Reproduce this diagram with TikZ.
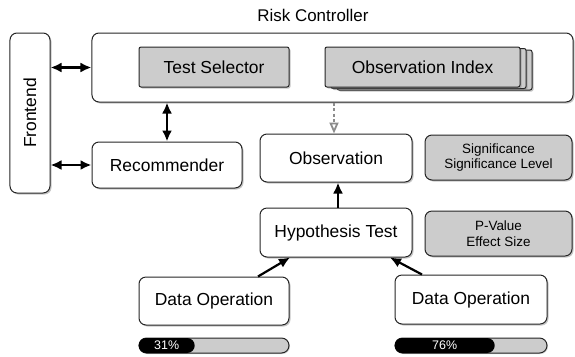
\documentclass[tikz,border=0pt]{standalone}
\usepackage{fontspec}
\setmainfont{Liberation Sans}
\usetikzlibrary{positioning,arrows.meta,shadows}
\definecolor{boxgray}{RGB}{204,204,204}

\begin{document}
\begin{tikzpicture}[x=1bp,y=-1bp,>={Latex[length=11bp,width=10bp]},
  box/.style={draw=black!85,line width=1bp,rounded corners=7bp,fill=white,
    drop shadow={shadow xshift=1.5bp,shadow yshift=-1.5bp,opacity=0.45},
    font=\fontsize{17.5}{20}\selectfont,inner sep=0pt},
  graybox/.style={box,fill=boxgray,rounded corners=2bp},
  infobox/.style={box,fill=boxgray,align=center,font=\fontsize{13.5}{16}\selectfont},
  bar/.style={draw=black!85,line width=1bp,rounded corners=7.5bp,fill=boxgray,
    minimum height=15bp,inner sep=0pt,
    drop shadow={shadow xshift=1bp,shadow yshift=-1bp,opacity=0.35}},
  barfill/.style={fill=black,rounded corners=7.5bp,minimum height=15bp,inner sep=0pt,
    text=white,font=\fontsize{12.5}{14}\selectfont},
  link/.style={<->,line width=2.2bp}]
\useasboundingbox (0,0) rectangle (575,356);
% risk controller and its parts
\node[font=\fontsize{17}{20}\selectfont] (title) at (313,15) {Risk Controller};
\node[box,minimum width=481bp,minimum height=69bp] (rc) at (332.5,67.5) {};
\node[graybox,minimum width=150bp,minimum height=40bp] (ts) at (214,67) {Test Selector};
\node[graybox,minimum width=195bp,minimum height=40bp] (oi3) at (434.5,70) {};
\node[graybox,minimum width=195bp,minimum height=40bp] (oi2) at (428.5,68.5) {};
\node[graybox,minimum width=195bp,minimum height=40bp] (oi) at (422.5,67) {Observation Index};
% left column
\node[box,minimum width=40bp,minimum height=160bp] (fe) at (30,113) {\rotatebox{90}{Frontend}};
\node[box,minimum width=150bp,minimum height=46bp] (rec) at (167,165) {Recommender};
% middle column
\node[box,minimum width=152bp,minimum height=48bp] (obs) at (336,158) {Observation};
\node[box,minimum width=152bp,minimum height=49bp] (hyp) at (336,232.5) {Hypothesis Test};
\node[infobox,minimum width=147bp,minimum height=45bp] (sig) at (498.5,157.5) {Significance\\Significance Level};
\node[infobox,minimum width=147bp,minimum height=45bp] (pv) at (498.5,233.5) {P-Value\\Effect Size};
% data operations
\node[box,minimum width=150bp,minimum height=48bp] (d1) at (214,301) {Data Operation};
\node[box,minimum width=152bp,minimum height=49bp] (d2) at (471,299.5) {Data Operation};
\node[bar,minimum width=150bp] (bar1) at (214,345.5) {};
\node[barfill,minimum width=56bp,anchor=west] (p1) at (bar1.west) {31\%};
\node[bar,minimum width=152bp] (bar2) at (471,345.5) {};
\node[barfill,minimum width=100bp,anchor=west] (p2) at (bar2.west) {76\%};
% connectors
\draw[link] (fe.east |- rc.west) -- (rc.west);
\draw[link] (fe.east |- rec.west) -- (rec.west);
\draw[link] (rec.north |- rc.south) -- (rec.north);
\draw[->,black!45,line width=1.8bp,dash pattern=on 3bp off 2.5bp,>={Triangle[open,length=11bp,width=9bp]}]
  ([xshift=-2bp]rc.south -| obs.north) -- ([xshift=-2bp]obs.north);
\draw[->,line width=2.2bp] ([xshift=2bp]hyp.north) -- ([xshift=2bp]obs.south);
\draw[->,line width=2.2bp] ([xshift=44bp]d1.north) -- ([xshift=-46bp]hyp.south);
\draw[->,line width=2.2bp] ([xshift=-49bp]d2.north) -- ([xshift=54bp]hyp.south);
\end{tikzpicture}
\end{document}
